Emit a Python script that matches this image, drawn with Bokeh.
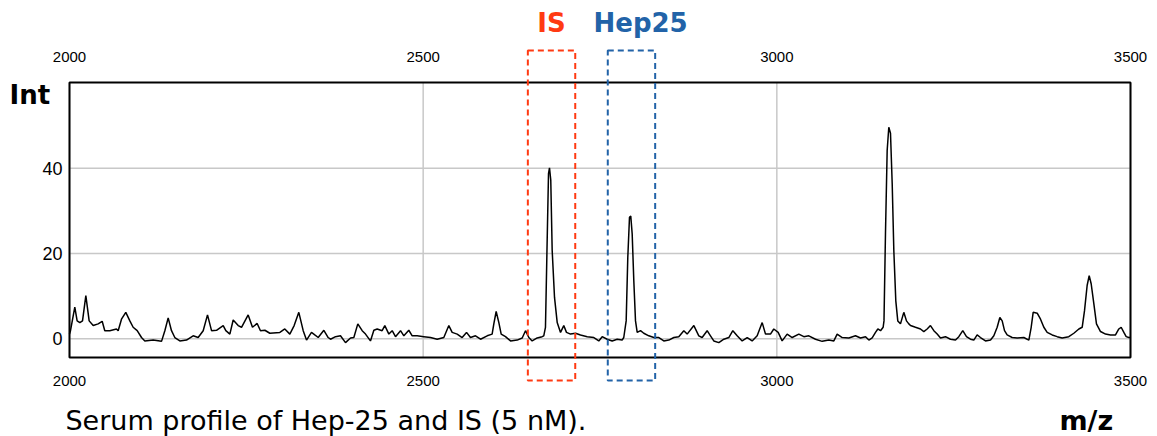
from bokeh.plotting import figure
from bokeh.models import Range1d, ColumnDataSource
from bokeh.core.properties import value
from bokeh.embed import file_html
from bokeh.resources import INLINE

# ---- data ----
mz = [2000.0, 2001.4, 2007.5, 2010.8, 2014.6, 2018.4, 2023.1, 2027.8, 2033.5, 2040.5,
      2046.2, 2049.9, 2057.0, 2066.4, 2068.8, 2073.5, 2079.6, 2085.3, 2090.0, 2095.7,
      2101.8, 2106.5, 2118.3, 2130.1, 2134.8, 2139.5, 2144.2, 2148.9, 2156.0, 2165.4,
      2174.8, 2181.9, 2189.0, 2195.1, 2200.8, 2207.8, 2217.3, 2221.0, 2226.7, 2231.4,
      2238.5, 2243.2, 2252.6, 2258.7, 2265.3, 2270.0, 2276.2, 2283.2, 2297.4, 2304.4,
      2311.5, 2317.6, 2324.2, 2330.4, 2335.1, 2342.1, 2346.8, 2351.6, 2359.6, 2365.7,
      2369.0, 2376.1, 2383.1, 2390.2, 2397.3, 2402.0, 2407.6, 2413.8, 2418.5, 2425.5,
      2430.3, 2435.0, 2442.0, 2445.8, 2451.5, 2456.2, 2460.9, 2468.0, 2472.7, 2479.7,
      2484.5, 2491.5, 2500.9, 2510.4, 2519.8, 2529.2, 2536.3, 2541.0, 2548.1, 2555.1,
      2561.3, 2566.9, 2574.0, 2581.1, 2590.5, 2597.5, 2599.9, 2603.2, 2607.0, 2610.3,
      2616.4, 2623.5, 2632.9, 2640.0, 2644.7, 2649.4, 2654.1, 2661.2, 2668.2,
      2670.5, 2672.9, 2675.3, 2677.2, 2678.6, 2680.4, 2682.4, 2685.7, 2689.5, 2694.2,
      2698.8, 2702.6, 2708.3, 2715.4, 2722.4, 2731.9, 2741.3, 2748.3,
      2753.1, 2760.1, 2767.2, 2774.3, 2781.3,
      2783.6, 2787.0, 2789.3, 2791.7, 2793.5, 2795.5, 2797.8, 2800.2, 2802.6, 2807.3,
      2811.9, 2819.0, 2826.1, 2833.2, 2840.2, 2847.3, 2854.4, 2861.4, 2868.5, 2873.2,
      2882.7, 2889.7, 2894.4, 2901.5, 2906.2, 2910.9, 2918.0, 2925.1, 2932.1, 2937.8,
      2943.9, 2951.0, 2958.1, 2965.1, 2972.2, 2979.3, 2984.0, 2991.0, 2995.7, 3001.9,
      3007.5, 3014.6, 3021.7, 3031.1, 3038.2, 3045.2, 3054.7, 3064.1, 3073.5, 3080.6,
      3085.3, 3092.4, 3101.8, 3111.2,
      3118.3, 3125.4, 3130.1, 3134.8, 3139.5, 3142.8, 3146.6, 3150.3, 3151.5, 3153.6,
      3156.0, 3158.3, 3160.7, 3163.1, 3165.4, 3168.2, 3171.0, 3174.8, 3179.5, 3183.3,
      3186.6, 3189.0, 3196.0, 3203.1, 3207.8, 3212.5, 3217.2, 3222.0, 3226.7, 3231.4,
      3238.4, 3245.5, 3252.6, 3257.3, 3262.9, 3268.1, 3273.8, 3278.5, 3283.2, 3287.9,
      3295.0, 3302.1, 3306.8, 3311.5, 3315.3, 3318.6, 3321.9, 3325.6, 3332.7, 3339.8,
      3349.2, 3356.3, 3359.6, 3362.4, 3368.1, 3372.8, 3377.5, 3382.2, 3389.3, 3396.3,
      3403.4, 3412.8, 3419.9, 3427.0, 3431.7, 3435.0, 3438.7, 3441.6, 3444.4, 3448.2,
      3451.9, 3457.6, 3464.7, 3471.7, 3478.8, 3483.5, 3486.8, 3490.6, 3493.9, 3497.6,
      3500.0]
intensity = [1.1, 1.9, 7.4, 4.2, 3.8, 4.2, 10.1, 4.2, 3.1, 3.5,
             4.1, 1.9, 1.9, 2.3, 1.9, 4.6, 6.2, 4.2, 2.7, 1.9,
             0.3, -0.5, -0.3, -0.6, 1.9, 4.9, 1.9, 0.3, -0.5, -0.3,
             0.7, 0.3, 1.9, 5.6, 1.9, 2.0, 3.1, 1.9, 1.1, 4.4,
             3.1, 2.7, 5.6, 2.7, 3.6, 1.9, 2.0, 1.3, 1.5, 2.3,
             1.1, 3.1, 6.2, 1.9, -0.3, 1.5, 0.9, 0.3, 2.0, 0.3,
             -0.1, 0.5, 0.7, -0.9, 0.2, 0.3, 3.5, 1.9, 1.1, -0.5,
             2.0, 2.3, 1.9, 3.1, 1.1, 1.9, 0.5, 1.9, 0.7, 2.0,
             0.7, 0.7, 0.5, 0.3, -0.1, 0.3, 3.1, 1.5, 1.1, 0.3,
             1.5, 0.3, 0.7, -0.1, 0.7, 1.1, 3.5, 6.4, 3.8, 1.1,
             0.5, -0.5, -0.3, 0.2, 1.9, 0.3, -0.5, 0.2, 0.5,
             0.7, 2.7, 23.0, 38.7, 40.1, 37.2, 20.7, 9.7, 3.8, 1.5,
             3.1, 1.5, 1.1, 1.3, 0.9, 0.5, 0.3, -0.5,
             0.5, -0.1, -0.5, -0.1, -0.3,
             0.3, 4.2, 19.1, 28.5, 28.8, 24.6, 13.6, 4.2, 1.5, 1.9,
             1.3, 0.7, 0.3, 0.3, -0.5, -0.3, 0.3, 0.5, 1.9, 1.1,
             3.1, 0.7, 0.3, 1.9, 0.7, -0.5, -0.9, -0.1, 0.3, 1.9,
             0.7, -0.5, 0.3, -0.5, 0.7, 3.8, 1.1, 1.1, 2.3, 1.5,
             -0.5, 1.1, 0.3, 1.1, 0.5, 0.7, -0.1, -0.6, -0.3, -0.5,
             1.1, 0.3, 0.2, 0.7,
             0.2, 0.5, -0.3, 0.2, 1.5, 2.3, 1.9, 2.7, 4.2, 24.7,
             44.2, 49.6, 48.2, 36.4, 20.7, 8.9, 4.2, 3.5, 6.2, 4.2,
             3.5, 3.1, 2.7, 2.3, 1.7, 2.3, 3.1, 1.9, 1.1, 0.2,
             0.5, -0.1, -0.3, 0.5, 1.9, 0.5, -0.1, -0.3, 0.9, 0.3,
             -0.5, -0.3, 0.7, 2.7, 5.0, 4.2, 1.9, 0.9, 0.3, 0.2,
             0.3, -0.3, 2.7, 6.2, 6.0, 4.6, 2.7, 1.5, 0.9, 0.5,
             0.2, 0.5, 1.3, 2.3, 2.7, 6.6, 12.5, 14.8, 12.9, 8.2,
             3.5, 1.7, 1.1, 0.9, 0.9, 2.3, 2.7, 1.5, 0.5, 0.3,
             0.3]

x_ticks = [2000, 2500, 3000, 3500]
y_ticks = [0, 20, 40]
is_window = [2648, 2715]     # IS (internal standard) m/z window
hep_window = [2761, 2828]    # Hep25 m/z window

# ---- layout / styling constants ----
RED = "#ff3a12"
BLUE = "#2263a8"
BOX_X = (2000, 3500)          # inner plot box (m/z)
BOX_Y = (-4.4, 60.1)          # inner plot box (intensity)
WIN_Y = (-9.8, 67.6)          # vertical extent of dashed windows
TOP_LAB_Y = 66.1
BOT_LAB_Y = -10.0

p = figure(width=1150, height=436,
           x_range=Range1d(1902.45, 3528.28), y_range=Range1d(-22.91, 79.32),
           output_backend="svg", toolbar_location=None,
           x_axis_location=None, y_axis_location=None,
           min_border=0)
p.min_border_left = 0
p.min_border_right = 0
p.min_border_top = 0
p.min_border_bottom = 0
p.outline_line_color = None
p.background_fill_color = "white"
p.border_fill_color = "white"
p.xgrid.visible = False
p.ygrid.visible = False

GRID = "#c8c8c8"
# grid lines inside the box
p.segment(x0=x_ticks, x1=x_ticks, y0=[BOX_Y[0]] * len(x_ticks), y1=[BOX_Y[1]] * len(x_ticks),
          line_color=GRID, line_width=1.5)
p.segment(x0=[BOX_X[0]] * len(y_ticks), x1=[BOX_X[1]] * len(y_ticks), y0=y_ticks, y1=y_ticks,
          line_color=GRID, line_width=1.5)

# spectrum
src = ColumnDataSource(dict(mz=mz, intensity=intensity))
p.line("mz", "intensity", source=src, line_color="black", line_width=1.5)

# box outline
p.quad(left=[BOX_X[0]], right=[BOX_X[1]], bottom=[BOX_Y[0]], top=[BOX_Y[1]],
       fill_color=None, line_color="black", line_width=2)

# dashed windows
p.quad(left=[is_window[0], hep_window[0]], right=[is_window[1], hep_window[1]],
       bottom=[WIN_Y[0]] * 2, top=[WIN_Y[1]] * 2,
       fill_color=None, line_color=[RED, BLUE], line_width=2, line_dash="6 4")

# tick labels
TICK_FONT = value("Liberation Sans")
for ly in (TOP_LAB_Y, BOT_LAB_Y):
    p.text(x=x_ticks, y=[ly] * len(x_ticks), text=[str(t) for t in x_ticks],
           text_font=TICK_FONT, text_font_size="15px", text_color="black",
           text_align="center", text_baseline="middle")
p.text(x=[1990.1] * len(y_ticks), y=y_ticks, text=[str(t) for t in y_ticks],
       text_font=TICK_FONT, text_font_size="18px", text_color="black",
       text_align="right", text_baseline="middle")

# titles / annotations
def lab(x, y, text, size, bold=False, color="black", align="left"):
    p.text(x=[x], y=[y], text=[text], text_font=value("DejaVu Sans"),
           text_font_size=size, text_font_style="bold" if bold else "normal",
           text_color=color, text_align=align, text_baseline="middle")

lab(1915.2, 57.2, "Int", "26px", bold=True)
lab(2681.4, 74.1, "IS", "26px", bold=True, color=RED, align="center")
lab(2740.8, 74.1, "Hep25", "26px", bold=True, color=BLUE)
lab(1994.3, -19.2, "Serum profile of Hep-25 and IS (5 nM).", "27px")
lab(3399.6, -19.2, "m/z", "27px", bold=True)

open("out.html", "w").write(file_html(p, INLINE))
